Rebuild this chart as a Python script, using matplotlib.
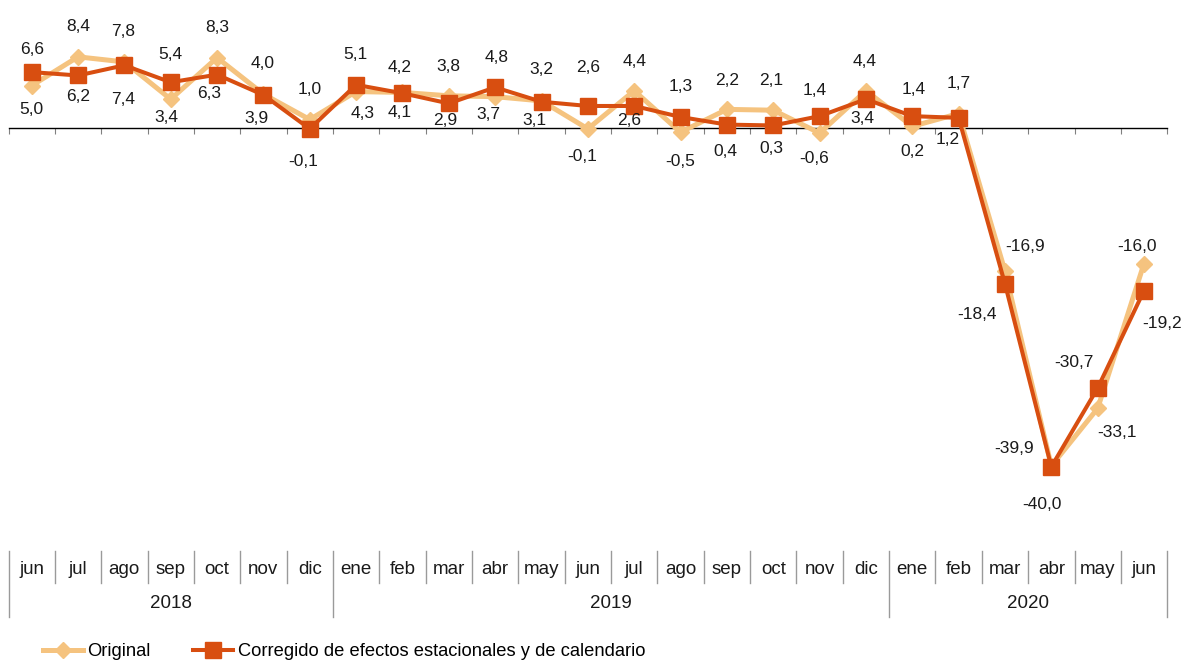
import matplotlib
matplotlib.use('Agg')
import matplotlib.pyplot as plt
from matplotlib import font_manager
from matplotlib.transforms import blended_transform_factory

# ---------------- data ----------------
months = ['jun', 'jul', 'ago', 'sep', 'oct', 'nov', 'dic',
          'ene', 'feb', 'mar', 'abr', 'may', 'jun', 'jul', 'ago', 'sep', 'oct', 'nov', 'dic',
          'ene', 'feb', 'mar', 'abr', 'may', 'jun']
years = ['2018', '2019', '2020']
year_first = [0, 7, 19]
year_last = [6, 18, 24]
original = [5.0, 8.4, 7.8, 3.4, 8.3, 4.0, 1.0, 4.3, 4.2, 3.8, 3.7, 3.2, -0.1, 4.4,
            -0.5, 2.2, 2.1, -0.6, 4.4, 0.2, 1.7, -16.9, -39.9, -33.1, -16.0]
corregido = [6.6, 6.2, 7.4, 5.4, 6.3, 3.9, -0.1, 5.1, 4.1, 2.9, 4.8, 3.1, 2.6, 2.6,
             1.3, 0.4, 0.3, 1.4, 3.4, 1.4, 1.2, -18.4, -40.0, -30.7, -19.2]
series_names = ['Original', 'Corregido de efectos estacionales y de calendario']

# ---------------- layout (label offsets in pixels, y downward) ----------------
orig_off = [(0, 24), (0, -30), (-1, -30), (-4, 18), (0, -30), (-1, -31), (0, -30), (7, 22),
            (-3, -25), (0, -29), (-7, 18), (0, -31), (-6, 28), (0, -29), (0, 29), (0, -29),
            (-2, -30), (-5, 25), (-1, -29), (0, 25), (0, -30), (20, -25), (-37, -17),
            (19, 24), (-7, -17)]
corr_off = [(0, -23), (0, 21), (-1, 34), (0, -28), (-8, 19), (-7, 24), (-7, 33), (-1, -30),
            (-3, 19), (-4, 17), (1, -30), (-7, 19), (0, -38), (-5, 15), (0, -30), (-2, 27),
            (-2, 23), (-5, -26), (-4, 19), (1, -27), (-11, 22), (-28, 31), (-9, 38),
            (-24, -26), (18, 33)]

LIGHT = '#F5C37F'
DARK = '#D84E10'

names = {f.name for f in font_manager.fontManager.ttflist}
if 'Liberation Sans Narrow' in names:
    NARROW = 'Liberation Sans Narrow'
    axis_fs, year_fs, leg_fs = 16, 16, 16
else:
    NARROW = 'Liberation Sans'
    axis_fs, year_fs, leg_fs = 13.5, 13.5, 13.2
plt.rcParams['font.family'] = ['Liberation Sans', 'DejaVu Sans']

W, H = 1183, 664
fig = plt.figure(figsize=(W / 100, H / 100), dpi=100)
# y pixel of value v = 128 - 8.47 v
ymin, ymax = -48, 14
top_px = 128 - 8.47 * ymax
bot_px = 128 - 8.47 * ymin
left_px, right_px = 8.5, 1167.2
ax = fig.add_axes([left_px / W, (H - bot_px) / H, (right_px - left_px) / W, (bot_px - top_px) / H])
ax.set_xlim(-0.5, len(months) - 0.5)
ax.set_ylim(ymin, ymax)
ax.patch.set_alpha(0)

x = list(range(len(months)))
l1, = ax.plot(x, original, color=LIGHT, lw=3.6, marker='D', ms=8, mec=LIGHT, mfc=LIGHT,
              zorder=3, label=series_names[0])
l2, = ax.plot(x, corregido, color=DARK, lw=2.9, marker='s', ms=11, mec=DARK, mfc=DARK,
              zorder=4, label=series_names[1])

for xi, v, (dx, dy) in zip(x, original, orig_off):
    ax.annotate(f'{v:.1f}'.replace('.', ','), (xi, v), xytext=(dx, -dy),
                textcoords='offset pixels', ha='center', va='center', fontsize=12.5,
                color='#1a1a1a', zorder=5)
for xi, v, (dx, dy) in zip(x, corregido, corr_off):
    ax.annotate(f'{v:.1f}'.replace('.', ','), (xi, v), xytext=(dx, -dy),
                textcoords='offset pixels', ha='center', va='center', fontsize=12.5,
                color='#1a1a1a', zorder=5)

# axis at zero with tick marks at category boundaries
for s in ['top', 'right', 'left']:
    ax.spines[s].set_visible(False)
ax.spines['bottom'].set_position(('data', 0))
ax.spines['bottom'].set_color('black')
ax.spines['bottom'].set_linewidth(1.0)
ax.spines['bottom'].set_zorder(2)
ax.set_yticks([])
ax.set_xticks([i - 0.5 for i in range(len(months) + 1)])
ax.tick_params(axis='x', direction='out', length=4.5, width=0.8, color='#808080',
               labelbottom=False)

# category table at the bottom
tr = blended_transform_factory(ax.transData, fig.transFigure)
y_top = (H - 551) / H
y_mid = (H - 583) / H
y_bot = (H - 617) / H
y_month = (H - 570) / H
y_year = (H - 603.5) / H
year_bounds = set([year_first[0] - 0.5] + [l + 0.5 for l in year_last])
for i in range(len(months) + 1):
    b = i - 0.5
    lo = y_bot if b in year_bounds else y_mid
    ax.plot([b, b], [y_top, lo], transform=tr, color='#9a9a9a', lw=1.0, clip_on=False)
for xi, m in zip(x, months):
    ax.text(xi, y_month, m, transform=tr, ha='center', va='center', fontsize=axis_fs,
            family=NARROW, color='#1a1a1a')
for yname, f, l in zip(years, year_first, year_last):
    ax.text((f + l) / 2, y_year, yname, transform=tr, ha='center', va='center',
            fontsize=year_fs, family=NARROW, color='#1a1a1a')

leg = fig.legend(handles=[l1, l2], loc='center left', bbox_to_anchor=(42.7 / W, 12 / H),
                 ncol=2, frameon=False, borderpad=0, borderaxespad=0, handlelength=2.2,
                 handletextpad=0.24, columnspacing=2.3, prop={'family': NARROW, 'size': leg_fs})

fig.savefig('out.png', dpi=100)
